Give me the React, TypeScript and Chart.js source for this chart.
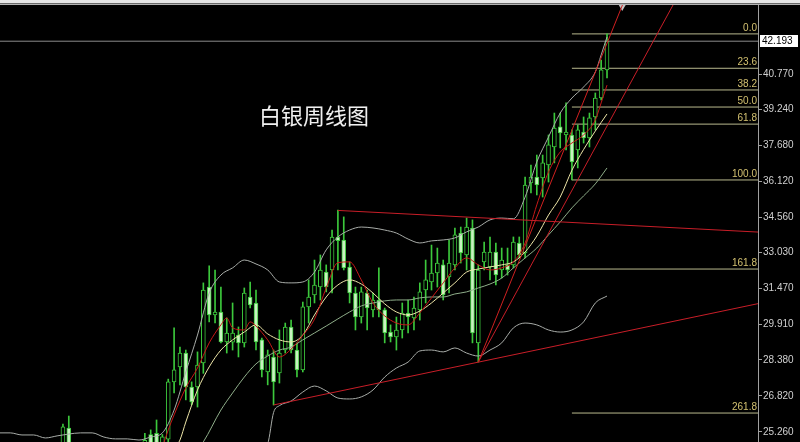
import React, { useEffect, useRef } from "react";
import { Chart, registerables } from "chart.js";

Chart.register(...registerables);

// ---- weekly candles (index 0..104) ----
const opens = [
  23.6, 24.0, 23.9, 23.4, 23.6, 24.2, 24.0, 23.2, 23.0, 23.7,
  24.2, 24.5, 25.43, 24.6, 23.8, 23.1, 22.8, 23.0, 23.4, 22.9,
  23.2, 23.6, 23.5, 23.3, 23.9, 24.3, 25.15, 25.2, 24.75, 24.95,
  27.43, 28.08, 28.68, 27.21, 27.21, 28.25, 31.54, 30.33, 30.46, 29.16,
  29.15, 29.46, 29.12, 31.11, 30.85, 29.25, 27.86, 28.51, 27.82, 28.81,
  29.81, 28.81, 27.95, 30.68, 31.2, 31.54, 32.19, 32.28, 33.71, 33.58,
  32.41, 31.28, 30.24, 31.28, 30.55, 30.98, 30.55, 29.59, 29.38, 29.68,
  30.41, 30.2, 30.55, 31.41, 31.76, 32.15, 32.5, 31.98, 32.5, 33.88,
  32.93, 34.1, 29.12, 32.63, 32.41, 33.06, 32.28, 32.5, 32.5, 33.45,
  33.02, 36.05, 36.31, 36.27, 36.83, 37.61, 38.48, 38.13, 38.13, 37.48,
  38.26, 38.0, 38.91, 39.73, 40.95,
];
const highs = [
  24.2, 24.5, 24.3, 23.8, 24.4, 24.6, 24.3, 23.6, 23.9, 24.4,
  24.7, 25.6, 25.95, 24.7, 24.1, 23.5, 23.3, 23.6, 23.7, 23.3,
  23.8, 24.2, 23.9, 24.0, 24.5, 25.2, 25.35, 25.78, 25.15, 27.55,
  29.77, 28.94, 28.81, 27.43, 28.73, 31.72, 32.46, 32.28, 31.54, 30.2,
  30.85, 29.81, 31.5, 31.76, 31.41, 29.33, 28.81, 28.81, 29.68, 29.98,
  30.11, 29.12, 30.89, 31.85, 32.71, 32.93, 32.5, 34.01, 34.88, 34.58,
  32.63, 31.54, 31.54, 31.41, 31.28, 32.37, 30.63, 29.9, 30.24, 30.85,
  30.98, 31.11, 31.72, 32.71, 33.36, 33.23, 32.71, 33.58, 34.1, 34.14,
  34.53, 34.45, 32.5, 33.49, 33.71, 33.45, 33.23, 33.23, 33.71, 33.71,
  36.31, 36.83, 37.26, 37.26, 38.13, 39.08, 39.08, 39.52, 38.35, 38.56,
  38.91, 39.08, 39.95, 41.38, 42.51,
];
const lows = [
  23.3, 23.7, 23.2, 22.9, 23.4, 23.8, 23.0, 22.7, 22.8, 23.5,
  23.9, 24.3, 24.4, 23.6, 22.9, 22.5, 22.3, 22.7, 22.8, 22.6,
  23.0, 23.3, 23.1, 23.2, 23.7, 24.0, 24.55, 24.5, 24.55, 24.8,
  26.95, 27.3, 26.65, 26.43, 26.34, 27.8, 30.03, 29.98, 29.12, 28.68,
  28.81, 28.51, 28.94, 30.63, 28.81, 27.64, 27.3, 26.43, 27.38, 28.68,
  28.68, 27.64, 27.86, 29.98, 30.85, 30.98, 31.33, 31.28, 32.28, 32.28,
  30.85, 29.68, 29.98, 29.68, 30.24, 30.24, 29.12, 29.16, 28.81, 29.33,
  29.55, 29.68, 30.11, 30.85, 31.41, 31.54, 30.98, 31.28, 32.28, 32.58,
  32.28, 29.12, 28.29, 32.28, 31.85, 31.63, 31.93, 32.06, 32.37, 32.8,
  32.8, 35.62, 35.53, 35.44, 36.09, 36.92, 37.57, 37.48, 36.18, 36.7,
  37.78, 37.61, 38.35, 39.65, 40.6,
];
const closes = [
  24.0, 23.9, 23.4, 23.6, 24.2, 24.0, 23.2, 23.0, 23.7, 24.2,
  24.5, 25.48, 24.6, 23.8, 23.1, 22.8, 23.0, 23.4, 22.9, 23.2,
  23.6, 23.5, 23.3, 23.9, 24.3, 24.9, 24.75, 24.75, 25.05, 27.43,
  27.95, 28.68, 27.21, 26.56, 28.16, 31.41, 30.33, 30.46, 29.16, 29.55,
  29.55, 29.12, 31.28, 30.76, 29.16, 27.95, 28.6, 27.43, 28.68, 29.81,
  28.81, 27.95, 30.68, 31.11, 31.63, 32.28, 31.54, 33.71, 33.55, 32.37,
  31.28, 30.24, 31.33, 30.63, 30.98, 30.55, 29.55, 29.38, 29.68, 30.41,
  30.24, 30.63, 31.33, 31.85, 32.15, 32.58, 31.2, 32.58, 33.8, 33.02,
  34.14, 29.55, 32.28, 33.06, 33.06, 32.06, 32.71, 32.28, 33.49, 32.93,
  35.96, 36.31, 35.96, 36.92, 37.7, 38.43, 38.22, 38.26, 36.96, 38.35,
  38.0, 38.87, 39.73, 40.95, 42.193,
];

// ---- indicator lines: [bar index, price] ----
const ma5Red = [
  [28, 24.6], [29, 25.35], [30, 26.0], [32, 27.17], [34, 28.03], [36, 29.12], [38, 29.9],
  [39, 30.2], [40, 29.77], [42, 29.68], [43, 30.03], [44, 29.85], [46, 29.25], [48, 28.51],
  [50, 28.85], [52, 29.45], [54, 30.15], [56, 31.5], [58, 32.6], [60, 32.63], [62, 31.85],
  [64, 30.85], [66, 30.29], [68, 29.98], [70, 29.9], [72, 30.42], [74, 31.07], [76, 31.72],
  [78, 32.37], [80, 32.8], [82, 32.5], [84, 32.28], [86, 32.37], [88, 32.63], [90, 33.45],
  [92, 35.1], [94, 36.53], [96, 37.39], [98, 37.78], [100, 38.13], [102, 38.78], [103, 39.52],
  [104, 40.29],
];
const ma10Cream = [
  [30, 24.5], [31, 24.91], [32, 25.69], [34, 27.08], [36, 28.08], [38, 28.81], [40, 29.25],
  [42, 29.59], [44, 29.9], [46, 29.51], [48, 29.25], [50, 29.16], [52, 29.46], [54, 30.33],
  [56, 31.11], [58, 31.63], [60, 31.85], [62, 31.67], [64, 31.28], [66, 30.81], [68, 30.46],
  [70, 30.33], [72, 30.5], [74, 30.85], [76, 31.28], [78, 31.72], [80, 32.19], [82, 32.32],
  [84, 32.41], [86, 32.5], [88, 32.63], [90, 33.06], [92, 33.75], [94, 34.66], [96, 35.44],
  [98, 36.6], [100, 37.5], [102, 38.3], [104, 39.04],
];
const ma20Mid = [
  [34, 24.5], [35, 24.83], [38, 26.21], [40, 26.95], [42, 27.64], [44, 28.21], [46, 28.55],
  [48, 28.81], [50, 28.94], [52, 29.25], [54, 29.55], [56, 29.85], [58, 30.16], [60, 30.46],
  [62, 30.72], [64, 30.85], [66, 30.94], [68, 30.98], [70, 30.98], [72, 31.07], [74, 31.11],
  [76, 31.11], [78, 31.24], [80, 31.33], [82, 31.5], [84, 31.67], [86, 31.93], [88, 32.37],
  [90, 32.8], [92, 33.23], [94, 33.8], [96, 34.36], [98, 34.97], [100, 35.49], [102, 36.01],
  [104, 36.7],
];
const bandUpper = [
  [0, 25.22], [2, 25.22], [4, 25.13], [6, 25.13], [8, 25.0], [10, 25.09], [12, 25.17],
  [14, 25.22], [16, 25.22], [18, 25.04], [20, 24.96], [22, 24.96], [24, 24.91], [26, 25.04],
  [28, 25.22], [30, 26.21], [32, 27.86], [34, 29.46], [36, 31.28], [38, 32.06], [40, 32.37],
  [42, 32.71], [44, 32.54], [46, 32.28], [48, 31.76], [50, 31.72], [52, 31.76], [54, 32.19],
  [56, 33.15], [58, 33.71], [60, 34.01], [62, 34.14], [64, 34.1], [66, 34.01], [68, 33.88],
  [70, 33.62], [72, 33.45], [74, 33.54], [76, 33.58], [78, 33.67], [80, 33.93], [82, 34.14],
  [84, 34.45], [86, 34.53], [88, 34.5], [90, 35.44], [92, 36.96], [94, 38.04], [96, 39.08],
  [98, 39.73], [100, 40.21], [102, 40.86], [103, 41.6], [104, 42.38],
];
const bandLower = [
  [44, 24.3], [46, 24.75], [47, 26.1], [48, 26.4], [50, 26.6], [52, 26.99], [54, 27.25],
  [56, 27.04], [58, 26.73], [60, 26.69], [62, 26.78], [64, 27.08], [66, 27.64], [68, 28.03],
  [70, 28.29], [72, 28.77], [74, 28.81], [76, 28.73], [78, 28.9], [80, 28.68], [82, 28.55],
  [84, 28.81], [86, 29.12], [88, 29.77], [90, 29.98], [92, 29.9], [94, 29.68], [96, 29.59],
  [98, 29.68], [100, 30.03], [102, 30.85], [104, 31.15],
];

// ---- hand-drawn objects ----
const trendUpper = [[58, 34.86], [130, 33.92]];
const trendLower = [[47, 26.43], [130, 30.83]];
const trendFastA = [[82, 28.29], [107.5, 44.3]];
const trendFastB = [[82, 28.29], [117, 44.56]];
const shiftMarker = [[106.6, 43.675]];

const fibLabels = ["0.0", "23.6", "38.2", "50.0", "61.8", "100.0", "161.8", "261.8"];
const fibValues = [42.51, 41.02, 40.08, 39.34, 38.6, 36.18, 32.32, 26.08];
const fibStart = 98;

const yTicks = [40.77, 39.24, 37.68, 36.12, 34.56, 33.03, 31.47, 29.91, 28.38, 26.82, 25.26];
const lastPrice = 42.193;
const title = "白银周线图";

const xMin = 0.24;
const xMax = 129.81;
const yMin = 24.825;
const yMax = 43.762;

const GREEN = "#3cc83c";
const PALE = "#c8f2c0";

const pts = (arr: number[][]) => arr.map(([x, y]) => ({ x, y }));

export default function App() {
  const ref = useRef<HTMLCanvasElement | null>(null);

  useEffect(() => {
    if (!ref.current) return;

    const bgPlugin = {
      id: "bgAndTexts",
      beforeDraw(chart: any) {
        const { ctx, width } = chart;
        ctx.save();
        ctx.fillStyle = "#000";
        ctx.fillRect(0, 0, width, chart.height);
        ctx.fillStyle = "#e6e6e6";
        ctx.fillRect(0, 0, width, 3);
        ctx.fillStyle = "#6a6a6a";
        ctx.fillRect(0, 3, width, 1);
        ctx.fillStyle = "#b4b4b4";
        ctx.fillRect(0, 4, width, 1);
        ctx.restore();
      },
      afterDraw(chart: any) {
        const { ctx, chartArea, scales } = chart;
        const ys = scales.y;
        ctx.save();
        ctx.font = '10px "Liberation Sans", Arial, sans-serif';
        ctx.textAlign = "right";
        ctx.textBaseline = "bottom";
        ctx.fillStyle = "#d2c070";
        fibValues.forEach((v, k) => {
          ctx.fillText(fibLabels[k], chartArea.right - 1, ys.getPixelForValue(v) - 1);
        });
        const py = Math.round(ys.getPixelForValue(lastPrice));
        ctx.fillStyle = "#ffffff";
        ctx.fillRect(chartArea.right + 2, py - 6, 38, 12);
        ctx.fillStyle = "#000000";
        ctx.textAlign = "left";
        ctx.textBaseline = "middle";
        ctx.fillText(lastPrice.toFixed(3), chartArea.right + 4, py + 0.5);
        ctx.font = '22px "Noto Sans CJK SC", sans-serif';
        ctx.fillStyle = "#f0f0f0";
        ctx.textAlign = "center";
        ctx.fillText(title, 314, 116);
        ctx.restore();
      },
    };

    const lineDs = (data: number[][], color: string, order: number, extra: any = {}) => ({
      type: "line",
      data: pts(data),
      borderColor: color,
      borderWidth: 1,
      pointRadius: 0,
      tension: 0,
      cubicInterpolationMode: "monotone",
      order,
      ...extra,
    });

    const fibDatasets = fibValues.map((v) =>
      lineDs([[fibStart, v], [xMax, v]], "#b9b98e", 6)
    );

    const chart = new Chart(ref.current, {
      type: "bar",
      data: {
        datasets: [
          lineDs(trendUpper, "#c81e28", 0),
          lineDs(trendLower, "#c81e28", 0),
          lineDs(trendFastA, "#d02020", 0),
          lineDs(trendFastB, "#c81e28", 0),
          lineDs(ma5Red, "#c81818", 1, { tension: 0.4 }),
          lineDs(ma10Cream, "#eee6a8", 1, { tension: 0.4 }),
          lineDs(ma20Mid, "#8fae8a", 1, { tension: 0.4 }),
          lineDs(bandUpper, "#a8aca8", 1, { tension: 0.4 }),
          lineDs(bandLower, "#a8aca8", 1, { tension: 0.4 }),
          lineDs([[xMin - 1, lastPrice], [xMax + 1, lastPrice]], "#8a8a8a", 2),
          {
            type: "line",
            data: pts(shiftMarker),
            showLine: false,
            pointStyle: "triangle",
            rotation: 180,
            pointRadius: 4,
            pointBackgroundColor: "#c4c4c4",
            pointBorderWidth: 0,
            clip: false,
            order: 0,
          },
          {
            type: "bar",
            data: opens.map((o, i) => ({ x: i, y: [o, closes[i]] })),
            backgroundColor: opens.map((o, i) => (closes[i] >= o ? "#000000" : PALE)),
            borderColor: GREEN,
            borderWidth: 1,
            borderSkipped: false,
            barThickness: 4,
            grouped: false,
            order: 3,
          },
          {
            type: "bar",
            data: lows.map((l, i) => ({ x: i, y: [l, highs[i]] })),
            backgroundColor: GREEN,
            borderWidth: 0,
            barThickness: 1,
            grouped: false,
            order: 4,
          },
          ...fibDatasets,
        ] as any,
      },
      options: {
        animation: false,
        responsive: true,
        maintainAspectRatio: false,
        events: [],
        layout: { autoPadding: false, padding: { top: 5, left: 0, right: 0, bottom: 0 } },
        plugins: {
          legend: { display: false },
          tooltip: { enabled: false },
        },
        scales: {
          x: {
            type: "linear",
            min: xMin,
            max: xMax,
            display: false,
            offset: false,
          },
          y: {
            position: "right",
            min: yMin,
            max: yMax,
            afterBuildTicks: (scale: any) => {
              scale.ticks = yTicks.map((v) => ({ value: v }));
            },
            afterFit: (scale: any) => {
              scale.width = 42;
              scale.paddingTop = 0;
              scale.paddingBottom = 0;
            },
            ticks: {
              callback: (v: any) => Number(v).toFixed(3),
              color: "#d0d0d0",
              font: { family: '"Liberation Sans", Arial, sans-serif', size: 10 },
              padding: 1,
              autoSkip: false,
            },
            grid: {
              drawOnChartArea: false,
              drawTicks: true,
              tickLength: 4,
              color: "#a0a0a0",
            },
            border: { display: true, color: "#a0a0a0" },
          },
        } as any,
      },
      plugins: [bgPlugin as any],
    } as any);

    return () => chart.destroy();
  }, []);

  return (
    <div
      style={{
        position: "absolute",
        left: 0,
        top: 0,
        width: 800,
        height: 442,
        background: "#000",
      }}
    >
      <canvas ref={ref} style={{ display: "block" }} />
    </div>
  );
}
